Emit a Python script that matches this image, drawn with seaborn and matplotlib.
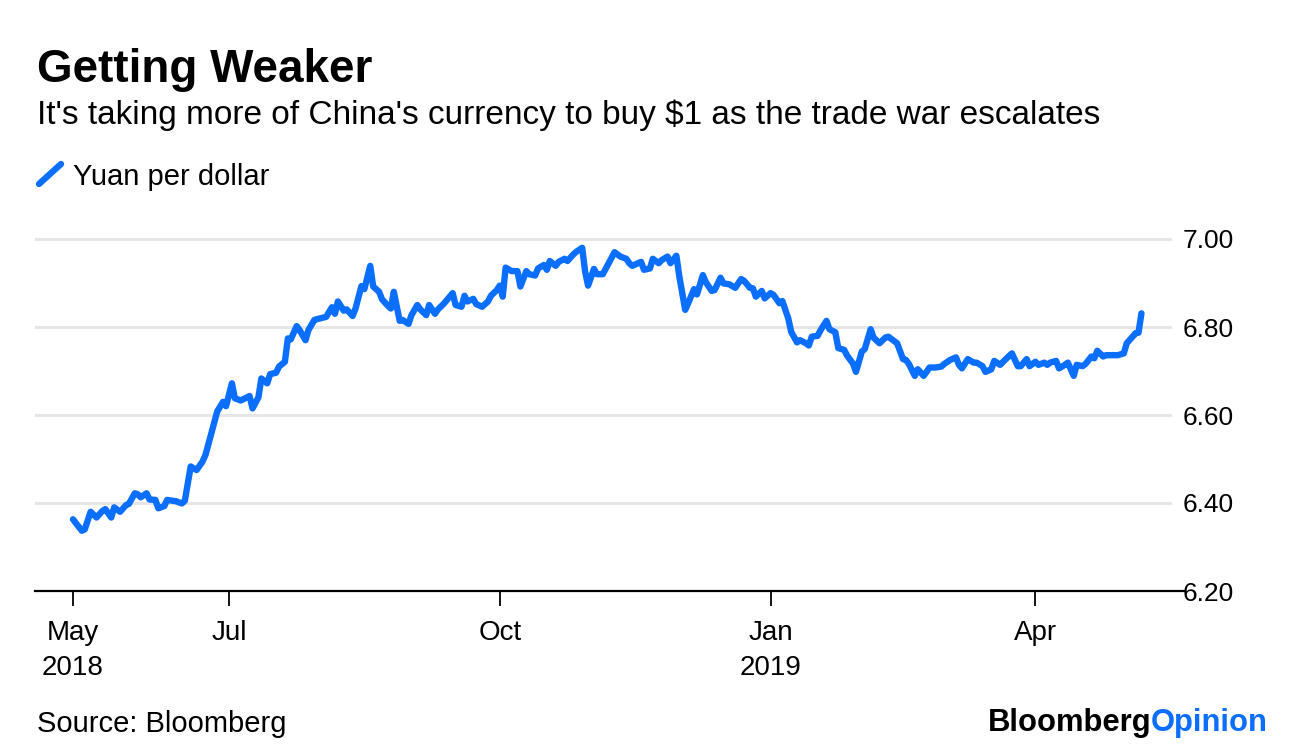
import pandas as pd
import numpy as np
import matplotlib
matplotlib.use("Agg")
import matplotlib.pyplot as plt
import matplotlib.dates as mdates
from matplotlib.lines import Line2D
import seaborn as sns

start = pd.Timestamp("2018-05-09")
day_offset = [
    0, 3, 4, 6, 8, 10, 11, 13, 14, 16, 18, 19, 21, 22, 23, 25, 26, 28, 29, 31,
    32, 34, 35, 37, 38, 40, 42, 44, 45, 47, 49, 51, 52, 54, 55, 57, 60, 61, 63, 64,
    66, 67, 69, 70, 72, 73, 74, 76, 77, 79, 80, 82, 83, 86, 88, 89, 90, 92, 93, 95,
    96, 98, 99, 101, 102, 104, 105, 107, 108, 109, 111, 112, 114, 115, 117, 118, 120, 121, 123, 124,
    126, 129, 130, 132, 133, 134, 136, 137, 139, 141, 142, 144, 145, 146, 147, 149, 151, 152, 154, 155,
    157, 158, 160, 161, 162, 164, 165, 167, 168, 170, 171, 173, 174, 175, 177, 178, 180, 182, 184, 186,
    188, 189, 190, 193, 194, 196, 197, 199, 200, 202, 203, 205, 206, 208, 209, 211, 212, 214, 215, 217,
    218, 220, 221, 223, 225, 227, 228, 230, 231, 232, 234, 235, 237, 238, 240, 241, 243, 244, 246, 247,
    249, 250, 251, 253, 254, 256, 257, 259, 260, 262, 263, 265, 266, 268, 269, 271, 272, 274, 276, 277,
    278, 280, 282, 283, 284, 286, 287, 289, 290, 291, 293, 295, 296, 298, 300, 301, 302, 304, 306, 307,
    309, 310, 312, 313, 315, 316, 318, 319, 321, 322, 324, 325, 327, 328, 330, 331, 332, 334, 335, 337,
    338, 340, 341, 343, 344, 346, 347, 348, 350, 351, 353, 355, 357, 358, 360, 361, 362, 363,
]
yuan_per_dollar = [
    6.363, 6.337, 6.340, 6.380, 6.367, 6.382, 6.386, 6.367, 6.390, 6.380, 6.395, 6.398, 6.422, 6.420, 6.413, 6.422, 6.408, 6.407, 6.388, 6.393,
    6.407, 6.405, 6.404, 6.399, 6.405, 6.483, 6.475, 6.494, 6.509, 6.558, 6.608, 6.630, 6.620, 6.672, 6.638, 6.633, 6.643, 6.615, 6.640, 6.683,
    6.672, 6.693, 6.696, 6.710, 6.721, 6.774, 6.772, 6.802, 6.793, 6.770, 6.793, 6.816, 6.818, 6.823, 6.845, 6.830, 6.858, 6.837, 6.840, 6.825,
    6.842, 6.893, 6.886, 6.939, 6.892, 6.880, 6.863, 6.848, 6.842, 6.880, 6.814, 6.816, 6.807, 6.827, 6.850, 6.840, 6.827, 6.850, 6.830, 6.840,
    6.853, 6.877, 6.850, 6.846, 6.871, 6.858, 6.864, 6.852, 6.846, 6.858, 6.871, 6.884, 6.894, 6.869, 6.935, 6.927, 6.927, 6.892, 6.927, 6.920,
    6.917, 6.933, 6.941, 6.930, 6.950, 6.939, 6.948, 6.955, 6.950, 6.965, 6.971, 6.980, 6.926, 6.894, 6.932, 6.920, 6.920, 6.945, 6.970, 6.960,
    6.955, 6.945, 6.939, 6.948, 6.930, 6.933, 6.955, 6.945, 6.952, 6.960, 6.945, 6.962, 6.915, 6.839, 6.854, 6.886, 6.874, 6.918, 6.902, 6.882,
    6.884, 6.912, 6.899, 6.897, 6.889, 6.909, 6.905, 6.889, 6.888, 6.869, 6.882, 6.865, 6.877, 6.873, 6.854, 6.859, 6.820, 6.789, 6.765, 6.770,
    6.763, 6.758, 6.778, 6.780, 6.793, 6.814, 6.795, 6.788, 6.752, 6.748, 6.735, 6.717, 6.698, 6.744, 6.750, 6.795, 6.776, 6.763, 6.776, 6.778,
    6.773, 6.763, 6.727, 6.725, 6.716, 6.689, 6.704, 6.689, 6.698, 6.708, 6.708, 6.710, 6.716, 6.725, 6.731, 6.714, 6.706, 6.727, 6.719, 6.719,
    6.711, 6.698, 6.704, 6.723, 6.714, 6.721, 6.734, 6.740, 6.711, 6.711, 6.727, 6.711, 6.721, 6.714, 6.719, 6.714, 6.719, 6.723, 6.706, 6.714,
    6.719, 6.689, 6.714, 6.711, 6.716, 6.733, 6.729, 6.746, 6.733, 6.736, 6.736, 6.736, 6.740, 6.763, 6.778, 6.786, 6.787, 6.831,
]
y_ticks = [6.20, 6.40, 6.60, 6.80, 7.00]
x_tick_dates = ["2018-05-09", "2018-07-01", "2018-10-01", "2019-01-01", "2019-04-01"]
x_tick_labels = ["May\n2018", "Jul", "Oct", "Jan\n2019", "Apr"]

blue = "#0A6EFF"

df = pd.DataFrame({
    "date": start + pd.to_timedelta(day_offset, unit="D"),
    "rate": yuan_per_dollar,
})

sns.set_theme(style="white")
plt.rcParams["font.family"] = ["Liberation Sans", "DejaVu Sans"]
plt.rcParams["text.color"] = "black"
plt.rcParams["xtick.color"] = "black"
plt.rcParams["ytick.color"] = "black"

fig = plt.figure(figsize=(12.96, 7.54), dpi=100)
ax = fig.add_axes([35 / 1296, 1 - 591 / 754, 1150 / 1296, (591 - 230.2) / 754])

# gridlines (light grey), drawn below the line
for v in y_ticks[1:]:
    ax.axhline(v, xmin=0.0, xmax=0.987, color="#e6e6e6", lw=2.2, zorder=0)

sns.lineplot(data=df, x="date", y="rate", color=blue, linewidth=4.6, ax=ax,
             zorder=3, solid_joinstyle="round", solid_capstyle="round")

ax.set_ylim(6.20, 7.02)
ax.set_xlim(start - pd.Timedelta(days=12.9), start + pd.Timedelta(days=377.8))

ax.set_xlabel("")
ax.set_ylabel("")
for s in ["top", "right", "left"]:
    ax.spines[s].set_visible(False)
ax.spines["bottom"].set_color("black")
ax.spines["bottom"].set_linewidth(1.6)

ax.yaxis.tick_right()
ax.set_yticks(y_ticks)
ax.set_yticklabels([f"{v:.2f}" for v in y_ticks])
ax.tick_params(axis="y", length=0, pad=-2, labelsize=19, labelcolor="black")

ax.set_xticks([mdates.date2num(pd.Timestamp(d)) for d in x_tick_dates])
ax.set_xticklabels(x_tick_labels, linespacing=1.42)
ax.tick_params(axis="x", length=11, width=1.3, color="black", pad=10,
               labelsize=20, labelcolor="black", direction="out", bottom=True)

# header texts
fig.text(37 / 1296, 1 - 82 / 754, "Getting Weaker", fontsize=33, fontweight="bold",
         va="baseline", ha="left")
fig.text(37 / 1296, 1 - 124 / 754,
         "It's taking more of China's currency to buy $1 as the trade war escalates",
         fontsize=24, va="baseline", ha="left")

# legend: slanted line swatch + label
fig.add_artist(Line2D([39 / 1296, 61 / 1296], [1 - 184 / 754, 1 - 164 / 754],
                      color=blue, lw=4.6, transform=fig.transFigure))
fig.text(73 / 1296, 1 - 185 / 754, "Yuan per dollar", fontsize=21, va="baseline", ha="left")

# footer
fig.text(37 / 1296, 1 - 732 / 754, "Source: Bloomberg", fontsize=21, va="baseline", ha="left")
op = fig.text(1268 / 1296, 1 - 731 / 754, "Opinion", fontsize=22.3, fontweight="bold",
              color=blue, va="baseline", ha="right")
fig.canvas.draw()
bb = op.get_window_extent()
fig.text(bb.x0 / fig.bbox.width, 1 - 731 / 754, "Bloomberg", fontsize=22.3, fontweight="bold",
         color="black", va="baseline", ha="right")

fig.savefig("out.png", dpi=100)
